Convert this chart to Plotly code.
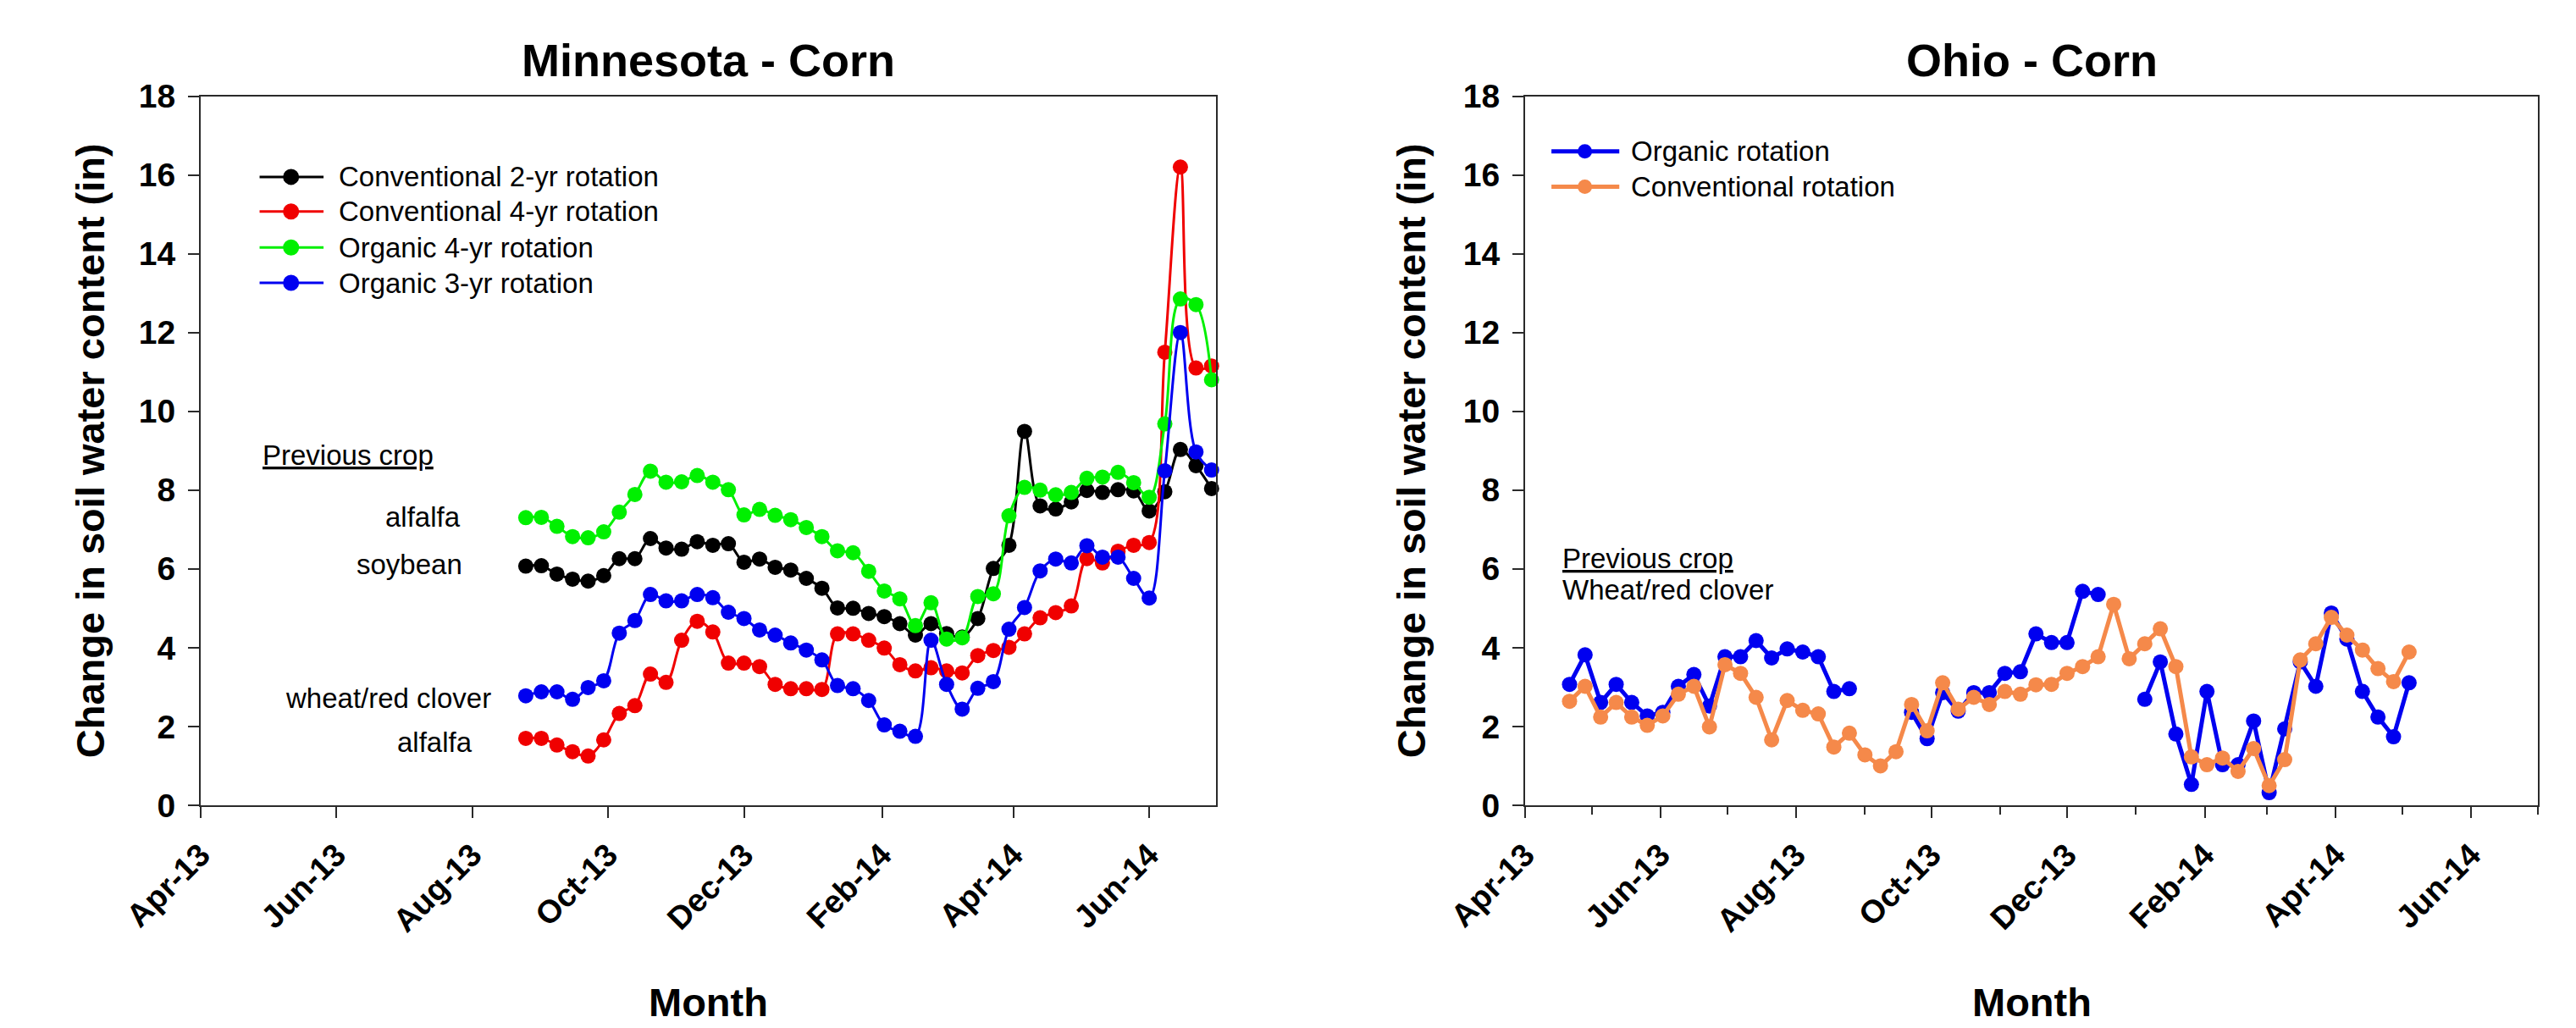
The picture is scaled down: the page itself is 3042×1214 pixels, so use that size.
import plotly.graph_objects as go

# ---------------- Minnesota - Corn (weekly readings) ----------------
mn_dates = [
    "2013-08-25", "2013-09-01", "2013-09-08", "2013-09-15", "2013-09-22", "2013-09-29",
    "2013-10-06", "2013-10-13", "2013-10-20", "2013-10-27", "2013-11-03", "2013-11-10",
    "2013-11-17", "2013-11-24", "2013-12-01", "2013-12-08", "2013-12-15", "2013-12-22",
    "2013-12-29", "2014-01-05", "2014-01-12", "2014-01-19", "2014-01-26", "2014-02-02",
    "2014-02-09", "2014-02-16", "2014-02-23", "2014-03-02", "2014-03-09", "2014-03-16",
    "2014-03-23", "2014-03-30", "2014-04-06", "2014-04-13", "2014-04-20", "2014-04-27",
    "2014-05-04", "2014-05-11", "2014-05-18", "2014-05-25", "2014-06-01", "2014-06-08",
    "2014-06-15", "2014-06-22", "2014-06-29",
]
mn_conv_2yr = [6.07, 6.08, 5.87, 5.74, 5.69, 5.83, 6.26, 6.26, 6.77, 6.53, 6.50, 6.69,
               6.60, 6.64, 6.17, 6.25, 6.04, 5.97, 5.76, 5.51, 5.01, 5.00, 4.87, 4.79,
               4.61, 4.32, 4.61, 4.36, 4.27, 4.74, 6.01, 6.60, 9.49, 7.60, 7.52, 7.70,
               7.99, 7.94, 8.01, 7.98, 7.47, 7.96, 9.03, 8.62, 8.04]
mn_conv_4yr = [1.70, 1.70, 1.53, 1.36, 1.25, 1.66, 2.33, 2.53, 3.33, 3.12, 4.19, 4.67,
               4.40, 3.61, 3.61, 3.52, 3.07, 2.96, 2.96, 2.94, 4.35, 4.35, 4.19, 3.99,
               3.57, 3.41, 3.49, 3.41, 3.36, 3.80, 3.93, 4.01, 4.35, 4.76, 4.89, 5.06,
               6.26, 6.15, 6.45, 6.60, 6.67, 11.50, 16.20, 11.10, 11.15]
mn_org_4yr = [7.30, 7.31, 7.08, 6.82, 6.79, 6.94, 7.44, 7.89, 8.48, 8.20, 8.21, 8.37,
              8.20, 8.01, 7.37, 7.51, 7.36, 7.25, 7.05, 6.82, 6.46, 6.41, 5.94, 5.44,
              5.24, 4.56, 5.14, 4.22, 4.25, 5.30, 5.37, 7.35, 8.07, 8.00, 7.88, 7.94,
              8.30, 8.33, 8.45, 8.19, 7.82, 9.68, 12.85, 12.71, 10.80]
mn_org_3yr = [2.78, 2.88, 2.88, 2.69, 2.99, 3.16, 4.37, 4.69, 5.35, 5.19, 5.19, 5.35,
              5.27, 4.90, 4.74, 4.45, 4.32, 4.12, 3.94, 3.69, 3.04, 2.96, 2.66, 2.04,
              1.88, 1.75, 4.19, 3.07, 2.44, 2.97, 3.14, 4.47, 5.02, 5.95, 6.25, 6.15,
              6.59, 6.30, 6.30, 5.76, 5.26, 8.49, 12.00, 8.97, 8.51]
mn_names = ["Conventional 2-yr rotation", "Conventional 4-yr rotation",
            "Organic 4-yr rotation", "Organic 3-yr rotation"]
mn_colors = ["#000000", "#F00000", "#00F000", "#0000F0"]
mn_series = [mn_conv_2yr, mn_conv_4yr, mn_org_4yr, mn_org_3yr]

# ---------------- Ohio - Corn (weekly readings, gaps = missing) ----------------
oh_dates = [
    "2013-04-21", "2013-04-28", "2013-05-05", "2013-05-12", "2013-05-19", "2013-05-26",
    "2013-06-02", "2013-06-09", "2013-06-16", "2013-06-23", "2013-06-30", "2013-07-07",
    "2013-07-14", "2013-07-21", "2013-07-28", "2013-08-04", "2013-08-11", "2013-08-18",
    "2013-08-25", "2013-09-01", "2013-09-08", "2013-09-15", "2013-09-22", "2013-09-29",
    "2013-10-06", "2013-10-13", "2013-10-20", "2013-10-27", "2013-11-03", "2013-11-10",
    "2013-11-17", "2013-11-24", "2013-12-01", "2013-12-08", "2013-12-15", "2013-12-22",
    "2013-12-29", "2014-01-05", "2014-01-12", "2014-01-19", "2014-01-26", "2014-02-02",
    "2014-02-09", "2014-02-16", "2014-02-23", "2014-03-02", "2014-03-09", "2014-03-16",
    "2014-03-23", "2014-03-30", "2014-04-06", "2014-04-13", "2014-04-20", "2014-04-27",
    "2014-05-04",
]
oh_organic = [3.07, 3.82, 2.61, 3.07, 2.61, 2.27, 2.36, 3.02, 3.32, 2.52, 3.77, 3.77,
              4.18, 3.74, 3.97, 3.89, 3.77, 2.89, 2.96, None, None, None, 2.36, 1.69,
              2.86, 2.39, 2.86, 2.86, 3.35, 3.39, 4.35, 4.13, 4.13, 5.43, 5.35, None,
              None, 2.69, 3.64, 1.81, 0.53, 2.89, 1.03, 1.03, 2.14, 0.32, 1.94, 3.64,
              3.02, 4.88, 4.22, 2.89, 2.24, 1.74, 3.11]
oh_conventional = [2.64, 3.02, 2.24, 2.61, 2.24, 2.03, 2.27, 2.82, 3.02, 1.99, 3.57, 3.35,
                   2.74, 1.66, 2.66, 2.41, 2.32, 1.48, 1.83, 1.28, 1.00, 1.36, 2.56, 1.89,
                   3.11, 2.44, 2.74, 2.56, 2.89, 2.82, 3.06, 3.07, 3.35, 3.52, 3.77, 5.10,
                   3.72, 4.10, 4.48, 3.52, 1.23, 1.03, 1.20, 0.86, 1.44, 0.50, 1.16, 3.69,
                   4.10, 4.77, 4.32, 3.94, 3.47, 3.14, 3.89]
oh_names = ["Organic rotation", "Conventional rotation"]
oh_colors = ["#0000F0", "#F5894A"]
oh_series = [oh_organic, oh_conventional]

# ---------------- axis ticks ----------------
tick_dates = ["2013-04-01", "2013-06-01", "2013-08-01", "2013-10-01", "2013-12-01",
              "2014-02-01", "2014-04-01", "2014-06-01"]
tick_labels = ["Apr-13", "Jun-13", "Aug-13", "Oct-13", "Dec-13", "Feb-14", "Apr-14", "Jun-14"]
month_ticks = ["2013-05-01", "2013-07-01", "2013-09-01", "2013-11-01", "2014-01-01",
               "2014-03-01", "2014-05-01", "2014-07-01"]
x_range = ["2013-04-01", "2014-07-01"]

W, H = 3042, 1214
# plot frames in pixels
L1, R1 = 237, 1436
L2, R2 = 1801, 2997
TOP, BOT = 113.5, 951

FONT = "Liberation Sans, Arial, sans-serif"
AX = "#2a2a2a"

fig = go.Figure()

for name, color, ys in zip(mn_names, mn_colors, mn_series):
    fig.add_trace(go.Scatter(
        x=mn_dates, y=ys, name=name, mode="lines+markers",
        line=dict(color=color, width=3, shape="spline", smoothing=1.0),
        marker=dict(color=color, size=18, symbol="circle"),
        xaxis="x", yaxis="y", cliponaxis=False, showlegend=False,
    ))

for name, color, ys in zip(oh_names, oh_colors, oh_series):
    fig.add_trace(go.Scatter(
        x=oh_dates, y=ys, name=name, mode="lines+markers",
        line=dict(color=color, width=5),
        marker=dict(color=color, size=18, symbol="circle"),
        connectgaps=False, xaxis="x2", yaxis="y2", cliponaxis=False, showlegend=False,
    ))


def xaxis_cfg(dom, minor):
    cfg = dict(
        domain=dom, type="date", range=x_range, automargin=False,
        tickmode="array", tickvals=tick_dates, ticktext=tick_labels,
        tickangle=-45, tickfont=dict(family=FONT, size=38, color="black", weight="bold"),
        ticks="outside", ticklen=13, tickwidth=2, tickcolor=AX,
        showline=True, linecolor=AX, linewidth=2, mirror=True,
        showgrid=False, zeroline=False, ticklabelstandoff=6,
    )
    if minor:
        cfg["minor"] = dict(tickmode="array", tickvals=month_ticks, ticks="outside",
                            ticklen=9, tickwidth=2, tickcolor=AX, showgrid=False)
    return cfg


def yaxis_cfg(anchor):
    return dict(
        domain=[1 - BOT / H, 1 - TOP / H], range=[0, 18], dtick=2, tick0=0,
        anchor=anchor, automargin=False,
        tickfont=dict(family=FONT, size=39, color="black", weight="bold"),
        ticks="outside", ticklen=13, tickwidth=2, tickcolor=AX,
        showline=True, linecolor=AX, linewidth=2, mirror=True,
        showgrid=False, zeroline=False, ticklabelstandoff=7,
    )


fig.update_layout(
    width=W, height=H, margin=dict(l=0, r=0, t=0, b=0, autoexpand=False),
    paper_bgcolor="white", plot_bgcolor="white", showlegend=False,
    xaxis=xaxis_cfg([L1 / W, R1 / W], False) | dict(anchor="y"),
    yaxis=yaxis_cfg("x"),
    xaxis2=xaxis_cfg([L2 / W, R2 / W], True) | dict(anchor="y2"),
    yaxis2=yaxis_cfg("x2"),
)

TXT = dict(family=FONT, size=33, color="black")
BOLD_T = dict(family=FONT, size=54, color="black", weight="bold")
BOLD_A = dict(family=FONT, size=47, color="black", weight="bold")

ann = []
# titles, axis titles
for (left, right, title) in [(L1, R1, "Minnesota - Corn"), (L2, R2, "Ohio - Corn")]:
    cx = (left + right) / 2 / W
    ann.append(dict(text=title, x=cx, y=1 - 71 / H, xref="paper", yref="paper",
                    showarrow=False, font=BOLD_T, xanchor="center", yanchor="middle"))
    ann.append(dict(text="Month", x=cx, y=1 - 1183 / H, xref="paper", yref="paper",
                    showarrow=False, font=BOLD_A, xanchor="center", yanchor="middle"))
ymid = 1 - (TOP + BOT) / 2 / H
for xpix in (106, 1666):
    ann.append(dict(text="Change in soil water content (in)", x=xpix / W, y=ymid,
                    xref="paper", yref="paper", textangle=-90, showarrow=False,
                    font=BOLD_A, xanchor="center", yanchor="middle"))

shapes = []


def legend_block(xref, yref, names, colors, ys, x0, x1, xm, xt, lw, ms):
    for name, color, yv in zip(names, colors, ys):
        shapes.append(dict(type="line", xref=xref, yref=yref, x0=x0, x1=x1, y0=yv, y1=yv,
                           line=dict(color=color, width=lw)))
        shapes.append(dict(type="circle", xref=xref, yref=yref,
                           xsizemode="pixel", ysizemode="pixel",
                           xanchor=xm, yanchor=yv, x0=-ms / 2, x1=ms / 2,
                           y0=-ms / 2, y1=ms / 2,
                           fillcolor=color, line=dict(color=color, width=0)))
        ann.append(dict(text=name, x=xt, y=yv, xref=xref, yref=yref, showarrow=False,
                        font=TXT, xanchor="left", yanchor="middle"))


legend_block("x domain", "y", mn_names, mn_colors, [15.95, 15.07, 14.16, 13.26],
             0.058, 0.121, 0.089, 0.134, 3, 19)
legend_block("x2 domain", "y2", oh_names, oh_colors, [16.6, 15.7],
             0.026, 0.093, 0.059, 0.103, 5, 17)

# previous-crop notes
ann.append(dict(text="Previous crop", x=0.059, y=8.89, xref="x domain", yref="y",
                showarrow=False, font=TXT | dict(lineposition="under"),
                xanchor="left", yanchor="middle"))
for label, xr, yv in [("alfalfa", 0.2577, 7.31), ("soybean", 0.259, 6.12),
                      ("wheat/red clover", 0.2876, 2.71), ("alfalfa", 0.269, 1.61)]:
    ann.append(dict(text=label, x=xr, y=yv, xref="x domain", yref="y", showarrow=False,
                    font=TXT, xanchor="right", yanchor="middle"))
ann.append(dict(text="Previous crop", x=0.035, y=6.26, xref="x2 domain", yref="y2",
                showarrow=False, font=TXT | dict(lineposition="under"),
                xanchor="left", yanchor="middle"))
ann.append(dict(text="Wheat/red clover", x=0.035, y=5.46, xref="x2 domain", yref="y2",
                showarrow=False, font=TXT, xanchor="left", yanchor="middle"))

fig.update_layout(annotations=ann, shapes=shapes)
fig.write_html("out.html")
